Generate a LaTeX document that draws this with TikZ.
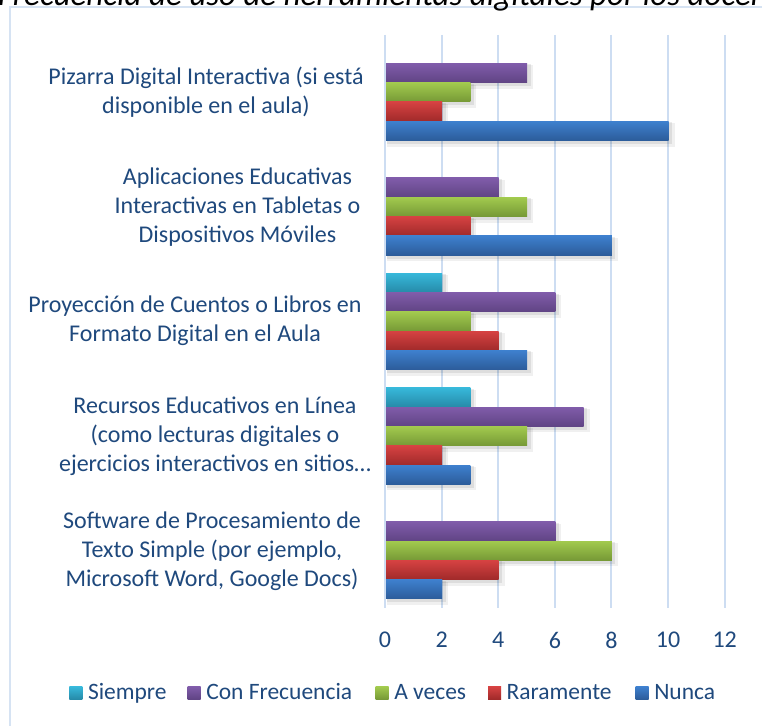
\documentclass[tikz,border=0pt]{standalone}
\usepackage{fontspec}
\setmainfont{Carlito}
\definecolor{txt}{RGB}{31,73,125}
\definecolor{gridc}{RGB}{205,221,242}
\definecolor{framec}{RGB}{214,227,243}
\definecolor{sieTop}{RGB}{55,184,218}\definecolor{sieBot}{RGB}{38,138,168}
\definecolor{conTop}{RGB}{128,92,170}\definecolor{conBot}{RGB}{96,68,132}
\definecolor{aveTop}{RGB}{162,202,78}\definecolor{aveBot}{RGB}{118,153,54}
\definecolor{rarTop}{RGB}{214,66,66}\definecolor{rarBot}{RGB}{160,42,42}
\definecolor{nunTop}{RGB}{62,128,206}\definecolor{nunBot}{RGB}{44,92,154}
\newcommand\barshadow[3]{%
  \ifnum#3>0
  \pgfmathsetmacro\yt{44+114.6*#1+19.3*#2}%
  \pgfmathsetmacro\xe{385.5+28.31*#3}%
  \fill[black,opacity=.06] (387,\yt+2) rectangle (\xe+6,\yt+25.3);
  \fill[black,opacity=.08] (387,\yt+1) rectangle (\xe+3.5,\yt+22.8);
  \fi}
\newcommand\drawbar[4]{%
  \ifnum#3>0
  \pgfmathsetmacro\yt{44+114.6*#1+19.3*#2}%
  \pgfmathsetmacro\xe{385.5+28.31*#3}%
  \shade[top color=#4Top, bottom color=#4Bot] (386,\yt) rectangle (\xe,\yt+19.3);
  \fi}
\tikzset{
  catlab/.style={font=\fontsize{24}{29}\selectfont, text=txt, align=center, inner sep=0pt},
  axlab/.style={font=\fontsize{24}{29}\selectfont, text=txt, inner sep=0pt},
  leglab/.style={font=\fontsize{23.5}{28}\selectfont, text=txt, inner sep=0pt, anchor=base west},
  gridline/.style={draw=gridc, line width=2pt},
  framel/.style={draw=framec, line width=1.6pt}
}
\begin{document}
\begin{tikzpicture}[x=1pt,y=-1pt]
\useasboundingbox (0,0) rectangle (762,725);
\clip (0,0) rectangle (762,725);
\fill[white] (0,0) rectangle (762,725);
% frame
\draw[framel] (10,730) -- (10,7) -- (770,7);
% title (cut by the top edge, as in the reference)
\node[anchor=base west, inner sep=0pt, font=\itshape\fontsize{33}{36}\selectfont, text=black] (title) at (-2,6) {Frecuencia de uso de herramientas digitales por los docentes};
% grid
\foreach \v in {0,2,...,12} {
  \draw[gridline] ({385+28.31*\v},35) -- ({385+28.31*\v},608);
  \node[axlab] (t\v) at ({385+28.31*\v},640) {\v};
}
% shadows
\foreach \g/\a/\b/\c/\d/\e in {0/0/5/3/2/10,1/0/4/5/3/8,2/2/6/3/4/5,3/3/7/5/2/3,4/0/6/8/4/2} {
  \barshadow{\g}{0}{\a}\barshadow{\g}{1}{\b}\barshadow{\g}{2}{\c}\barshadow{\g}{3}{\d}\barshadow{\g}{4}{\e}
}
% bars
\foreach \g/\a/\b/\c/\d/\e in {0/0/5/3/2/10,1/0/4/5/3/8,2/2/6/3/4/5,3/3/7/5/2/3,4/0/6/8/4/2} {
  \drawbar{\g}{0}{\a}{sie}\drawbar{\g}{1}{\b}{con}\drawbar{\g}{2}{\c}{ave}\drawbar{\g}{3}{\d}{rar}\drawbar{\g}{4}{\e}{nun}
}
% category labels
\node[catlab] (l0) at (206,92) {Pizarra Digital Interactiva (si está\\disponible en el aula)};
\node[catlab] (l1) at (237.5,207) {Aplicaciones Educativas\\Interactivas en Tabletas o\\Dispositivos Móviles};
\node[catlab] (l2) at (195,321) {Proyección de Cuentos o Libros en\\Formato Digital en el Aula};
\node[catlab] (l3) at (215,436) {Recursos Educativos en Línea\\(como lecturas digitales o\\ejercicios interactivos en sitios…};
\node[catlab] (l4) at (212,551) {Software de Procesamiento de\\Texto Simple (por ejemplo,\\Microsoft Word, Google Docs)};
% legend
\foreach \x/\c/\t/\n in {69.3/sie/Siempre/a,187.6/con/Con Frecuencia/b,375.6/ave/A veces/c,488/rar/Raramente/d,635.6/nun/Nunca/e} {
  \shade[top color=\c Top, bottom color=\c Bot] (\x,686.7) rectangle ++(13,12.6);
  \node[leglab] (leg\n) at (\x+18.5,699.3) {\t};
}
\end{tikzpicture}
\end{document}
